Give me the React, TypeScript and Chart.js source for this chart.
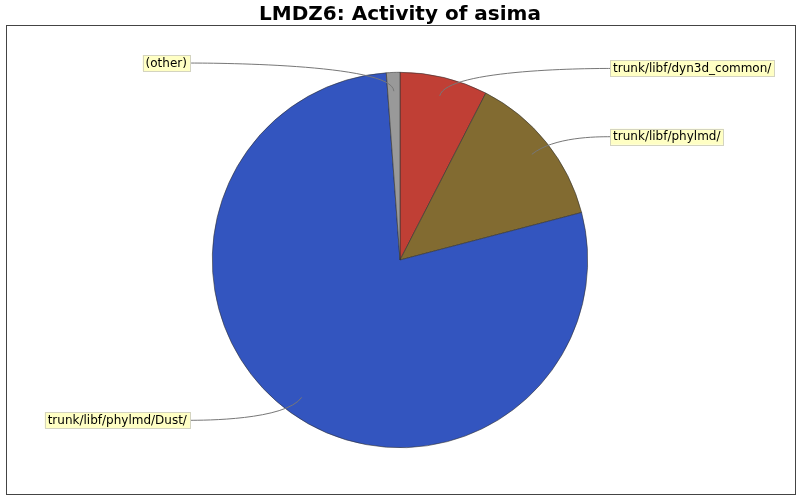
import { useEffect, useRef } from "react";
import { Chart, registerables } from "chart.js";

Chart.register(...registerables);

const chartTitle = "LMDZ6: Activity of asima";
const paths = [
  "trunk/libf/dyn3d_common/",
  "trunk/libf/phylmd/",
  "trunk/libf/phylmd/Dust/",
  "(other)",
];
const activity = [13, 23, 134, 2];
const sliceColors = ["#c03f35", "#826b31", "#3355bf", "#999999"];

// leader lines + yellow label boxes, plot frame and title
const pieDecor = {
  id: "pieDecor",
  beforeDraw(chart: any) {
    const ctx = chart.ctx as CanvasRenderingContext2D;
    ctx.save();
    ctx.fillStyle = "#ffffff";
    ctx.fillRect(0, 0, chart.width, chart.height);
    ctx.strokeStyle = "#444444";
    ctx.lineWidth = 1;
    ctx.strokeRect(6.5, 25.5, 789, 469);
    ctx.fillStyle = "#000000";
    ctx.font = "bold 20px 'DejaVu Sans'";
    ctx.textAlign = "center";
    ctx.textBaseline = "alphabetic";
    ctx.fillText(chartTitle, chart.width / 2, 20);
    ctx.restore();
  },
  afterDatasetsDraw(chart: any) {
    const ctx = chart.ctx as CanvasRenderingContext2D;
    const arcs = chart.getDatasetMeta(0).data;
    ctx.save();
    ctx.font = "12px 'DejaVu Sans'";
    arcs.forEach((arc: any, i: number) => {
      const { x, y, startAngle, endAngle, outerRadius } = arc;
      const a = (startAngle + endAngle) / 2;
      const re = outerRadius * 1.05;
      const right = Math.cos(a) >= 0;
      const linkX = x + Math.cos(a) * outerRadius * 0.9;
      const linkY = y + Math.sin(a) * outerRadius * 0.9;
      const elbowX = x + Math.cos(a) * re;
      const elbowY = y + Math.sin(a) * re;
      const anchorX = right ? x + re : x - re;
      const targetX = right ? anchorX + 13 : anchorX - 13;

      ctx.strokeStyle = "#777777";
      ctx.lineWidth = 1;
      ctx.beginPath();
      ctx.moveTo(targetX, elbowY);
      ctx.bezierCurveTo(anchorX, elbowY, elbowX, elbowY, linkX, linkY);
      ctx.stroke();

      const text = paths[i];
      const w = ctx.measureText(text).width + 6;
      const h = 16;
      const bx = right ? targetX : targetX - w;
      const by = elbowY - h / 2;
      ctx.fillStyle = "#ffffc4";
      ctx.fillRect(bx, by, w, h);
      ctx.strokeStyle = "#d4d4c0";
      ctx.strokeRect(Math.round(bx) + 0.5, Math.round(by) + 0.5, Math.round(w), h);
      ctx.fillStyle = "#000000";
      ctx.textAlign = "left";
      ctx.textBaseline = "middle";
      ctx.fillText(text, bx + 3, elbowY + 0.5);
    });
    ctx.restore();
  },
};

const App = () => {
  const canvasRef = useRef<HTMLCanvasElement | null>(null);
  const chartRef = useRef<Chart<"pie", number[], string> | null>(null);

  useEffect(() => {
    if (chartRef.current !== null) {
      chartRef.current.destroy();
    }
    if (canvasRef.current !== null) {
      chartRef.current = new Chart(canvasRef.current, {
        type: "pie",
        data: {
          labels: paths,
          datasets: [
            {
              data: activity,
              backgroundColor: sliceColors,
              borderColor: "#333333",
              borderWidth: 0.6,
            },
          ],
        },
        options: {
          responsive: false,
          animation: false,
          devicePixelRatio: 1,
          layout: { padding: { top: 72, bottom: 52, left: 0, right: 0 } },
          plugins: {
            legend: { display: false },
            tooltip: { enabled: false },
            title: { display: false },
          },
        },
        plugins: [pieDecor],
      });
    }
    return () => {
      if (chartRef.current !== null) {
        chartRef.current.destroy();
        chartRef.current = null;
      }
    };
  }, []);

  return (
    <div style={{ position: "absolute", left: 0, top: 0, width: 800, height: 500 }}>
      <canvas ref={canvasRef} width={800} height={500} />
    </div>
  );
};

export default App;
